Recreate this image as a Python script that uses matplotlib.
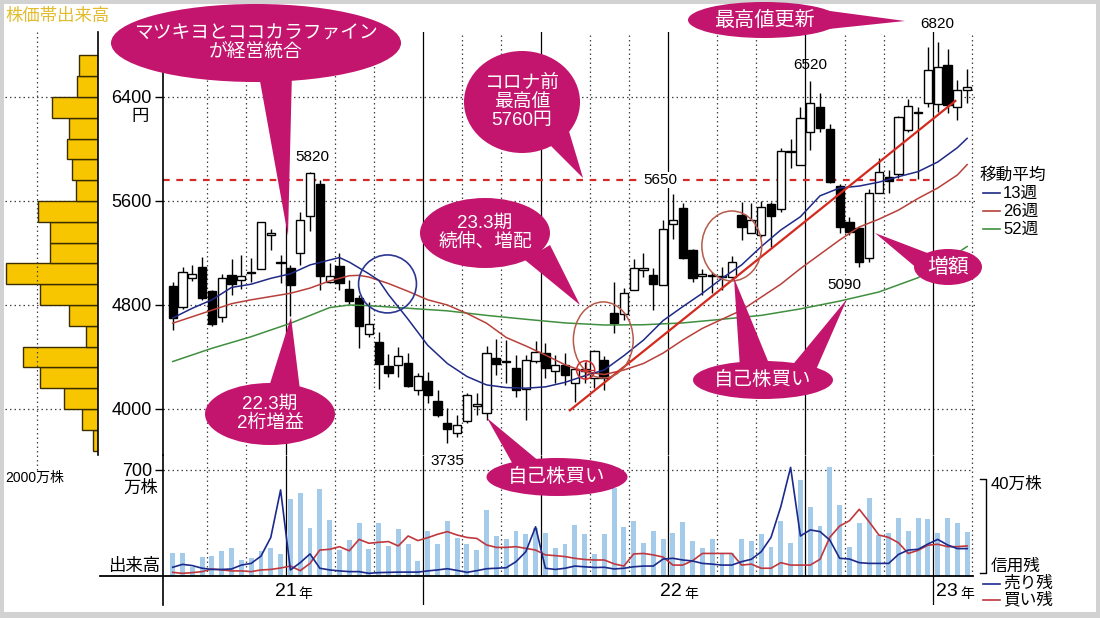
import numpy as np
import matplotlib
matplotlib.use('Agg')
import matplotlib.pyplot as plt
from matplotlib.patches import Rectangle, Ellipse, Polygon

plt.rcParams['font.family'] = ['Liberation Sans', 'Noto Sans CJK JP']

# weekly candles (yen)
opens = [4949, 4787, 5005, 5095, 4910, 4710, 5031, 4992, 5045, 5077,
         5340, 5122, 5082, 5197, 5487, 5728, 4980, 5100, 4921, 4851,
         4577, 4518, 4331, 4339, 4351, 4146, 4216, 4064, 3890, 3813,
         3910, 4025, 3972, 4390, 4360, 4313, 4151, 4372, 4433, 4292,
         4339, 4203, 4290, 4236, 4377, 4741, 4731, 4915, 5069, 5031,
         4954, 5423, 5544, 5223, 5025, 5030, 5015, 5018, 5492, 5356,
         5338, 5577, 5536, 5975, 5877, 6133, 6320, 6151, 5715, 5441,
         5390, 5159, 5659, 5787, 5808, 6146, 6285, 6356, 6346, 6646,
         6321, 6454]
highs = [4980, 5090, 5108, 5172, 4915, 5038, 5151, 5185, 5159, 5441,
         5382, 5185, 5108, 5518, 5820, 5762, 5120, 5203, 4992, 4877,
         4826, 4595, 4423, 4474, 4428, 4274, 4287, 4146, 4005, 3954,
         4121, 4121, 4485, 4536, 4531, 4415, 4415, 4526, 4510, 4415,
         4428, 4310, 4364, 4454, 4408, 4980, 4928, 5151, 5197, 5082,
         5454, 5650, 5582, 5230, 5074, 5056, 5095, 5177, 5595, 5587,
         5603, 5595, 6005, 6077, 6326, 6520, 6428, 6192, 5731, 5480,
         5400, 5690, 5928, 5839, 6254, 6382, 6321, 6787, 6820, 6767,
         6531, 6613]
lows = [4608, 4767, 4987, 4838, 4640, 4672, 4877, 4920, 4980, 5074,
        5223, 4967, 4715, 5108, 5372, 4915, 4967, 4915, 4808, 4467,
        4551, 4151, 4249, 4249, 4172, 4108, 4049, 3941, 3735, 3782,
        3895, 3954, 3915, 4262, 4197, 4095, 3915, 4351, 4236, 4197,
        4185, 4057, 4197, 4159, 4146, 4582, 4685, 4915, 5018, 4761,
        4954, 5305, 5150, 4980, 4877, 4890, 4915, 5005, 5300, 5350,
        5326, 5249, 5518, 5851, 5877, 5992, 6133, 5735, 5351, 5338,
        5090, 5133, 5659, 5659, 5774, 6133, 5767, 6321, 6287, 6279,
        6223, 6351]
closes = [4697, 5056, 5038, 4851, 4654, 5005, 4959, 5026, 5050, 5436,
          5348, 5130, 4954, 5454, 5813, 5023, 5023, 4972, 4833, 4641,
          4654, 4346, 4280, 4410, 4177, 4254, 4108, 3954, 3844, 3877,
          4108, 4035, 4428, 4344, 4368, 4146, 4377, 4441, 4313, 4339,
          4262, 4305, 4310, 4446, 4236, 4664, 4895, 5087, 5087, 4962,
          5382, 5454, 5159, 5005, 5030, 5020, 5020, 5133, 5403, 5454,
          5556, 5485, 5987, 5985, 6236, 6356, 6159, 5749, 5403, 5364,
          5133, 5664, 5826, 5756, 6244, 6331, 6275, 6608, 6628, 6338,
          6454, 6480]

# moving averages (week index, yen)
ma13_w = [0, 2, 4, 6, 8, 10, 12, 14, 16, 17, 18, 20, 21, 22, 24, 26, 28, 30,
          32, 34, 36, 38, 40, 42, 44, 46, 48, 50, 52, 54, 56, 58, 60, 62, 64,
          66, 68, 70, 72, 74, 76, 78, 80, 81]
ma13_v = [4700, 4775, 4840, 4935, 4960, 5005, 5040, 5108, 5146, 5165, 5130,
          5040, 4990, 4880, 4690, 4490, 4350, 4250, 4185, 4165, 4160, 4170,
          4205, 4255, 4300, 4410, 4530, 4680, 4787, 4890, 5005, 5108, 5249,
          5377, 5479, 5640, 5700, 5715, 5745, 5787, 5826, 5900, 6010, 6082]
ma26_w = [0, 2, 4, 6, 8, 10, 12, 14, 16, 18, 19, 20, 22, 24, 26, 28, 30, 32,
          34, 36, 38, 40, 42, 44, 46, 48, 50, 52, 54, 56, 58, 60, 62, 64, 66,
          68, 70, 72, 74, 76, 78, 80, 81]
ma26_v = [4660, 4710, 4760, 4810, 4840, 4865, 4890, 4930, 4985, 5025, 5028,
          5015, 4965, 4905, 4840, 4800, 4735, 4660, 4550, 4485, 4415, 4340,
          4287, 4265, 4300, 4350, 4430, 4530, 4620, 4690, 4760, 4860, 4960,
          5080, 5190, 5300, 5400, 5460, 5530, 5620, 5700, 5800, 5880]
ma52_w = [0, 4, 8, 12, 16, 18, 20, 24, 28, 32, 36, 40, 44, 48, 52, 56, 60,
          64, 68, 72, 76, 79, 81]
ma52_v = [4365, 4467, 4556, 4659, 4780, 4800, 4795, 4775, 4755, 4720, 4690,
          4662, 4646, 4648, 4662, 4690, 4720, 4770, 4830, 4900, 5010, 5150,
          5250]

trend_w = [40.5, 79.8]
trend_v = [3990, 6370]

# weekly volume (万株)
volume = [155, 155, 60, 126, 132, 166, 183, 104, 117, 166, 188, 148, 508, 547,
          316, 574, 371, 172, 238, 347, 177, 347, 199, 309, 214, 99, 298, 210,
          360, 249, 214, 170, 437, 265, 247, 296, 280, 316, 287, 188, 214, 338,
          280, 143, 276, 581, 322, 364, 221, 298, 243, 287, 355, 234, 188, 243,
          146, 150, 247, 232, 278, 194, 360, 221, 636, 455, 327, 720, 470, 194,
          349, 514, 272, 283, 382, 300, 382, 375, 287, 382, 353, 289]

# margin balances (万株)
sell_rem = [3.6, 4.8, 4.3, 3.2, 2.7, 2.7, 2.9, 4.5, 5.2, 8.2, 15.9, 35.5, 2.5,
            5.5, 9.1, 3.2, 2.5, 2.1, 1.8, 1.8, 1.1, 1.4, 1.5, 1.6, 1.6, 1.6,
            2.1, 2.5, 3.0, 2.3, 1.5, 2.2, 3.0, 3.2, 3.4, 5.9, 10.0, 20.3, 3.2,
            2.7, 3.2, 4.1, 3.8, 3.5, 3.6, 2.9, 3.2, 3.8, 4.1, 4.1, 7.0, 7.3,
            6.6, 6.2, 5.2, 4.9, 4.5, 4.5, 5.9, 6.9, 10.0, 15.9, 28.6, 44.8,
            16.5, 19.0, 18.3, 14.8, 7.3, 7.0, 5.5, 5.2, 5.2, 5.2, 8.9, 10.7,
            11.0, 13.2, 15.1, 12.8, 11.3, 11.3]
buy_rem = [1.5, 1.1, 1.4, 1.8, 2.9, 2.5, 2.1, 2.1, 1.8, 2.5, 2.7, 3.3, 4.1,
           2.2, 5.2, 10.7, 11.0, 12.1, 10.4, 15.1, 13.5, 13.9, 14.2, 12.4,
           16.5, 14.6, 15.8, 17.2, 18.3, 16.9, 15.9, 15.5, 12.8, 11.8, 11.8,
           12.1, 11.4, 10.7, 8.7, 8.4, 8.0, 7.3, 6.8, 6.6, 6.6, 5.0, 4.1, 9.1,
           9.3, 8.7, 7.8, 4.5, 4.5, 6.3, 9.3, 9.3, 9.3, 9.3, 4.5, 4.9, 3.2,
           3.2, 5.5, 4.5, 4.5, 4.5, 6.9, 16.0, 20.6, 22.8, 27.5, 22.4, 16.9,
           15.9, 13.7, 9.3, 10.6, 12.7, 13.1, 12.1, 12.1, 12.4]

# volume by price band (lower edge of 160-yen band, 万株)
band_lo = [3680, 3840, 4000, 4160, 4320, 4480, 4640, 4800, 4960, 5120, 5280,
           5440, 5600, 5760, 5920, 6080, 6240, 6400, 6560]
band_vol = [164, 525, 1115, 1902, 2459, 393, 951, 1902, 3016, 1574, 1574,
            1967, 721, 852, 1016, 951, 1508, 689, 623]

price_ticks = [4000, 4800, 5600, 6400]
month_lines = [3.5, 7.5, 16.5, 20.5, 29.5, 33.5, 42.5, 46.5, 55.5, 59.5,
               68.5, 72.5, 81.5]
quarter_lines = [11.5, 25.5, 37.5, 50.5, 64.5, 77.5]
year_lines = [25.5, 77.5]
prev_high = 5760

W, H = 1100, 618
XL = (-0.99, 81.8)
BLUE = '#1f2a86'
RED26 = '#b8403a'
GREEN = '#3f8f3f'
PINK = '#c3156e'
DOT = (0, (1.2, 2.4))


def box(x0, y0, x1, y1):
    return [x0 / W, 1 - y1 / H, (x1 - x0) / W, (y1 - y0) / H]


fig = plt.figure(figsize=(11, 6.18), dpi=100)
fig.patch.set_facecolor('#d2d2d2')
fig.add_artist(Rectangle((4 / W, 6 / H), 1092 / W, 608 / H, transform=fig.transFigure,
                         facecolor='white', edgecolor='none', zorder=-5))

# ---- price panel
ax = fig.add_axes(box(163, 32, 975, 455))
ax.set_facecolor('none')
ax.set_xlim(*XL)
ax.set_ylim(3646, 6900)
for s in ['top', 'right', 'bottom']:
    ax.spines[s].set_visible(False)
ax.spines['left'].set_linewidth(1.2)
ax.set_xticks([])
ax.set_yticks(price_ticks)
ax.set_yticklabels([str(p) for p in price_ticks], fontsize=13)
ax.tick_params(axis='y', direction='out', length=6, width=1, pad=2)
for p in price_ticks:
    ax.axhline(p, color='#444', lw=0.9, ls=DOT, zorder=1)
for m in month_lines:
    ax.axvline(m, color='#444', lw=0.9, ls=DOT, zorder=1)
for q in quarter_lines:
    ax.axvline(q, color='black', lw=0.9, zorder=1)
ax.plot([XL[0], 77.5], [prev_high, prev_high], color='#d42a2a', lw=1.6,
        ls=(0, (3, 3)), zorder=2)

weeks = np.arange(len(opens))
ax.vlines(weeks, lows, highs, color='black', lw=1, zorder=3)
for i, o, c in zip(weeks, opens, closes):
    bottom = min(o, c)
    h = max(abs(c - o), 10)
    fc = 'white' if c >= o else 'black'
    ax.add_patch(Rectangle((i - 0.42, bottom), 0.84, h, facecolor=fc,
                           edgecolor='black', lw=1, zorder=4))

ax.plot(ma52_w, ma52_v, color=GREEN, lw=1.1, zorder=5)
ax.plot(ma26_w, ma26_v, color=RED26, lw=1.1, zorder=5)
ax.plot(ma13_w, ma13_v, color=BLUE, lw=1.1, zorder=5)
ax.plot(trend_w, trend_v, color='#d42a1e', lw=1.6, zorder=6)

# highlight circles
ax.add_patch(Ellipse((21.9, 4962), 5.9, 446, fill=False, edgecolor='#2a3690', lw=1.2, zorder=6))
ax.add_patch(Ellipse((43.9, 4531), 6.1, 585, fill=False, edgecolor='#b65a4a', lw=1.1, zorder=6))
ax.add_patch(Ellipse((57.0, 5254), 6.1, 538, fill=False, edgecolor='#b65a4a', lw=1.1, zorder=6))
ax.add_patch(Ellipse((42.1, 4300), 1.85, 140, fill=False, edgecolor='#d03030', lw=1.1, zorder=6))
ax.plot([41.2, 43.0], [4300, 4300], color='#d03030', lw=0.9, zorder=6)
ax.plot([42.1, 42.1], [4230, 4370], color='#d03030', lw=0.9, zorder=6)

# price labels
lab = dict(fontsize=11, ha='center', zorder=7)
ax.text(14.2, 5885, '5820', va='bottom', **lab)
ax.text(28.0, 3650, '3735', va='top', **lab)
ax.text(49.7, 5762, '5650', va='center',
        bbox=dict(facecolor='white', edgecolor='none', pad=0.5), **lab)
ax.text(65.0, 6595, '6520', va='bottom', **lab)
ax.text(68.5, 5010, '5090', va='top', **lab)
ax.text(78.0, 6905, '6820', va='bottom', **lab)

# ---- volume panel
axv = fig.add_axes(box(163, 455, 975, 605))
axv.set_facecolor('none')
axv.set_xlim(*XL)
axv.set_ylim(-191.5, 799)
for s in ['top', 'right', 'bottom']:
    axv.spines[s].set_visible(False)
axv.spines['left'].set_linewidth(1.2)
axv.set_xticks([])
axv.set_yticks([700])
axv.set_yticklabels(['700'], fontsize=13)
axv.tick_params(axis='y', direction='out', length=6, width=1, pad=2)
axv.plot([XL[0], 81.5], [700, 700], color='#444', lw=0.9, ls=DOT)
axv.vlines(month_lines, 0, 799, color='#444', lw=0.9, linestyles=DOT)
for q in quarter_lines:
    lo = -191.5 if q in year_lines else 0
    axv.vlines(q, lo, 799, color='black', lw=0.9)
axv.bar(weeks, volume, width=0.5, color='#a5cbea', zorder=2)

axc = axv.twinx()
axc.set_ylim(-11.96, 49.9)
axc.set_xlim(*XL)
axc.axis('off')
axc.plot(weeks, buy_rem, color='#c0383e', lw=1.2, zorder=3)
axc.plot(weeks, sell_rem, color='#1c2a8c', lw=1.2, zorder=3)

# ---- volume-by-price panel
axh = fig.add_axes(box(5, 32, 98, 455))
axh.set_facecolor('none')
axh.set_xlim(3049, 0)
axh.set_ylim(3646, 6900)
for s in ['top', 'left', 'bottom']:
    axh.spines[s].set_visible(False)
axh.spines['right'].set_linewidth(1.2)
axh.set_xticks([])
axh.set_yticks([])
for p in price_ticks:
    axh.axhline(p, color='#444', lw=0.9, ls=DOT, zorder=1)
axh.barh(np.array(band_lo) + 80, band_vol, height=160, color='#f8c600',
         edgecolor='#3a2e00', lw=1, zorder=2)

# ---- overlay in pixel coordinates
ov = fig.add_axes([0, 0, 1, 1])
ov.set_xlim(0, W)
ov.set_ylim(H, 0)
ov.axis('off')

ov.plot([37, 37], [32, 470], color='#444', lw=0.9, ls=DOT)
ov.plot([100, 973], [576, 576], color='black', lw=1.3)
ov.text(5, 16, '株価帯出来高', fontsize=12.5, color='#e2bc2e', va='center')
ov.text(5, 478, '2000万株', fontsize=10, va='center')
ov.text(140, 117, '円', fontsize=12.5, ha='center', va='center')
ov.text(141, 488, '万株', fontsize=12.5, ha='center', va='center')
ov.text(160, 566, '出来高', fontsize=12.5, ha='right', va='center')

ov.text(297, 592, '21', fontsize=14, ha='right', va='center')
ov.text(298, 594, '年', fontsize=10, ha='left', va='center')
ov.text(682, 592, '22', fontsize=14, ha='right', va='center')
ov.text(684, 594, '年', fontsize=10, ha='left', va='center')
ov.text(958, 592, '23', fontsize=14, ha='right', va='center')
ov.text(960, 594, '年', fontsize=10, ha='left', va='center')

ov.text(980, 175, '移動平均', fontsize=12, va='center')
for yy, col, s in [(193, BLUE, '13週'), (211, RED26, '26週'), (229, GREEN, '52週')]:
    ov.plot([983, 1000], [yy, yy], color=col, lw=1.2)
    ov.text(1003, yy, s, fontsize=12, va='center')

ov.plot([980, 986, 986, 980], [479, 479, 573, 573], color='black', lw=1)
ov.text(991, 484, '40万株', fontsize=12, va='center')
ov.text(991, 566, '信用残', fontsize=12, va='center')
ov.plot([983, 1000], [584, 584], color='#1c2a8c', lw=1.2)
ov.text(1003, 583, '売り残', fontsize=12, va='center')
ov.plot([983, 1000], [600, 600], color='#c0383e', lw=1.2)
ov.text(1003, 600, '買い残', fontsize=12, va='center')

callouts = [
    (256, 43, 290, 78, 'マツキヨとココカラファイン\nが経営統合', 13.5,
     [[(258, 70), (292, 72), (288, 236)]]),
    (522, 102, 116, 102, 'コロナ前\n最高値\n5760円', 13.5,
     [[(545, 140), (568, 128), (583, 178)]]),
    (764, 20, 152, 36, '最高値更新', 14.5,
     [[(800, 7), (800, 32), (905, 21)]]),
    (485, 233, 130, 70, '23.3期\n続伸、増配', 13.5,
     [[(525, 260), (550, 245), (580, 305)]]),
    (270, 414, 130, 62, '22.3期\n2桁増益', 13.5,
     [[(268, 390), (300, 390), (291, 317)]]),
    (557, 477, 141, 38, '自己株買い', 14,
     [[(515, 468), (540, 462), (487, 418)]]),
    (763, 380, 140, 38, '自己株買い', 14,
     [[(740, 368), (770, 366), (734, 278)], [(790, 368), (815, 372), (847, 299)]]),
    (948, 267, 68, 36, '増額', 15,
     [[(930, 254), (925, 275), (875, 233)]]),
]
for cx, cy, w, h, s, fs, ptrs in callouts:
    for pts in ptrs:
        ov.add_patch(Polygon(pts, closed=True, facecolor=PINK, edgecolor='none'))
    ov.add_patch(Ellipse((cx, cy), w, h, facecolor=PINK, edgecolor='none'))
    ov.text(cx, cy, s, fontsize=fs, color='white', ha='center', va='center',
            linespacing=1.1)

fig.savefig('out.png', dpi=100)
